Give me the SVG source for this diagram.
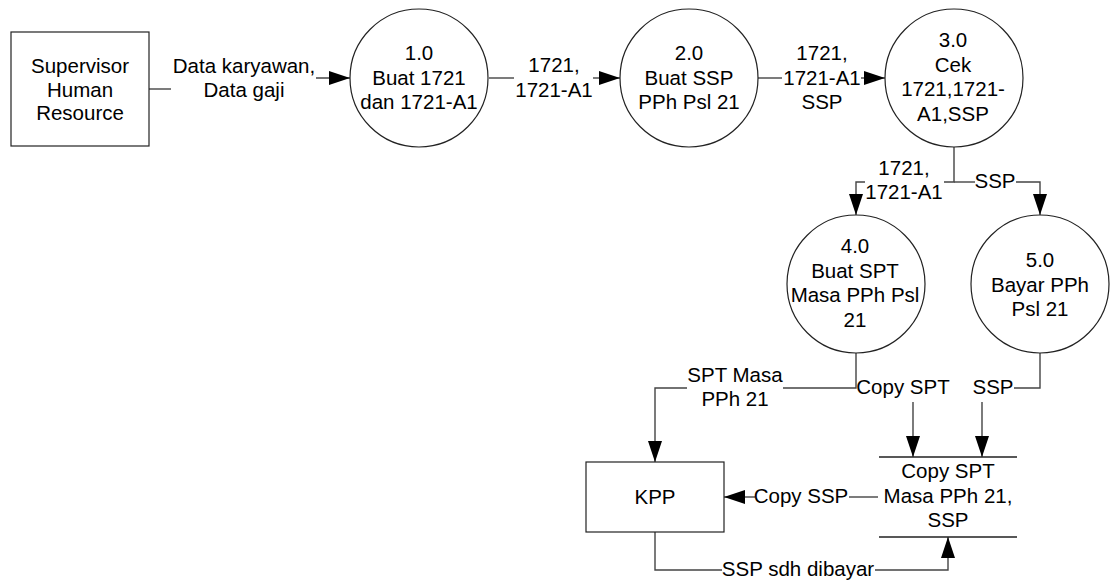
<svg xmlns="http://www.w3.org/2000/svg" width="1110" height="583" viewBox="0 0 1110 583">
<style>
text{font-family:"Liberation Sans",Arial,sans-serif;font-size:20.5px;fill:#000;text-anchor:middle}
.shape{fill:#fff;stroke:#222;stroke-width:1.2}
.conn{fill:none;stroke:#444;stroke-width:1.4}
</style>
<defs>
<marker id="arr" markerUnits="userSpaceOnUse" markerWidth="22" markerHeight="16" refX="21" refY="7" orient="auto">
<path d="M0,0 L21,7 L0,14 z" fill="#000"/>
</marker>
</defs>
<rect width="1110" height="583" fill="#fff"/>

<g id="connectors">
<path class="conn" d="M149,89 H171"/>
<path class="conn" d="M316,78 H350" marker-end="url(#arr)"/>
<path class="conn" d="M489,78 H514"/>
<path class="conn" d="M593,78 H620" marker-end="url(#arr)"/>
<path class="conn" d="M758,78 H782"/>
<path class="conn" d="M861,78 H885" marker-end="url(#arr)"/>
<path class="conn" d="M954,147 V182 H944"/>
<path class="conn" d="M954,182 H975"/>
<path class="conn" d="M865,182 H856 V215" marker-end="url(#arr)"/>
<path class="conn" d="M1016,182 H1040 V215" marker-end="url(#arr)"/>
<path class="conn" d="M856,353 V388 H783"/>
<path class="conn" d="M687,388 H655 V462" marker-end="url(#arr)"/>
<path class="conn" d="M913,402 V457" marker-end="url(#arr)"/>
<path class="conn" d="M1040,353 V388 H1014"/>
<path class="conn" d="M982,402 V457" marker-end="url(#arr)"/>
<path class="conn" d="M878,497 H849"/>
<path class="conn" d="M755,497 H724" marker-end="url(#arr)"/>
<path class="conn" d="M655,532 V570 H722"/>
<path class="conn" d="M875,570 H948 V537" marker-end="url(#arr)"/>
<text x="244" y="73">Data karyawan,</text>
<text x="244" y="96.5">Data gaji</text>
<text x="554" y="72">1721,</text>
<text x="554" y="96.5">1721-A1</text>
<text x="822" y="60">1721,</text>
<text x="822" y="84.5">1721-A1</text>
<text x="822" y="109">SSP</text>
<text x="904" y="175">1721,</text>
<text x="904" y="199">1721-A1</text>
<text x="995" y="188">SSP</text>
<text x="735" y="382">SPT Masa</text>
<text x="735" y="405.5">PPh 21</text>
<text x="903" y="394">Copy SPT</text>
<text x="993" y="394">SSP</text>
<text x="801" y="503">Copy SSP</text>
<text x="798" y="576">SSP sdh dibayar</text>
</g>

<g id="supervisor">
<rect class="shape" x="11" y="32" width="138" height="114"/>
<text x="80" y="73">Supervisor</text>
<text x="80" y="96.5">Human</text>
<text x="80" y="120">Resource</text>
</g>

<g id="p1">
<circle class="shape" cx="419" cy="78" r="69"/>
<text x="419" y="60">1.0</text>
<text x="419" y="84.5">Buat 1721</text>
<text x="419" y="109">dan 1721-A1</text>
</g>

<g id="p2">
<circle class="shape" cx="689" cy="78" r="69"/>
<text x="689" y="60">2.0</text>
<text x="689" y="84.5">Buat SSP</text>
<text x="689" y="109">PPh Psl 21</text>
</g>

<g id="p3">
<circle class="shape" cx="954" cy="78" r="69"/>
<text x="953" y="47">3.0</text>
<text x="953" y="71.5">Cek</text>
<text x="953" y="96">1721,1721-</text>
<text x="953" y="120.5">A1,SSP</text>
</g>

<g id="p4">
<circle class="shape" cx="856" cy="284" r="69"/>
<text x="855" y="253">4.0</text>
<text x="855" y="277.5">Buat SPT</text>
<text x="855" y="302">Masa PPh Psl</text>
<text x="855" y="326.5">21</text>
</g>

<g id="p5">
<circle class="shape" cx="1040" cy="284" r="69"/>
<text x="1040" y="267">5.0</text>
<text x="1040" y="291.5">Bayar PPh</text>
<text x="1040" y="316">Psl 21</text>
</g>

<g id="kpp">
<rect class="shape" x="586" y="462" width="138" height="70"/>
<text x="655" y="504">KPP</text>
</g>

<g id="datastore">
<path class="conn" d="M879,457 H1017 M879,537 H1017" style="stroke:#222"/>
<text x="948" y="478">Copy SPT</text>
<text x="948" y="502.5">Masa PPh 21,</text>
<text x="948" y="527">SSP</text>
</g>
</svg>
